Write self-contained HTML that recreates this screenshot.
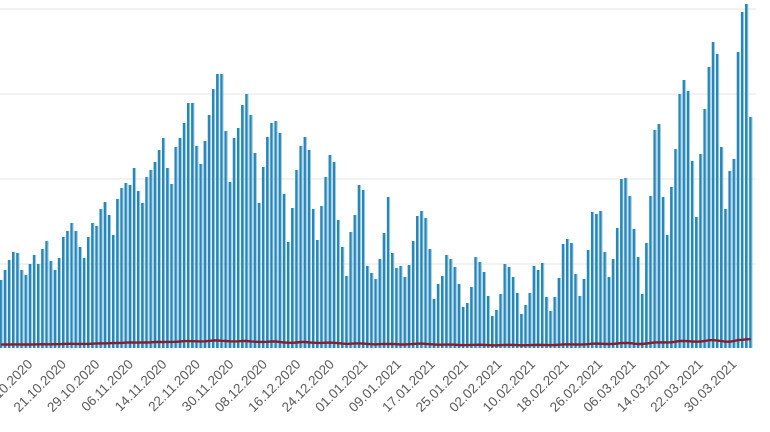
<!DOCTYPE html>
<html><head><meta charset="utf-8"><style>html,body{margin:0;padding:0;background:#fff;width:770px;height:432px;overflow:hidden}</style></head>
<body>
<svg id="s" width="770" height="432" xmlns="http://www.w3.org/2000/svg" style="font-family:'Liberation Sans',sans-serif"></svg>
<script>
var tops=[280,270,260,252,253,270,275,264,255,264,249,241,261,270,258,237,231,223,231,247,258,237,223,226,209,202,215,235,199,188,183,185,168,191,203,177,170,162,150,138,168,184,147,138,123,103,103,146,164,141,115,89,74,
74,131,182,138,128,105,94,115,153,203,167,137,123,121,133,194,242,208,170,146,137,150,209,240,206,177,155,162,220,247,276,232,215,185,190,266,273,279,259,233,197,253,268,266,277,
265,241,216,211,218,249,299,284,276,255,259,267,284,307,303,287,257,262,272,296,316,310,294,264,267,277,293,314,305,293,266,270,263,297,311,297,278,244,239,243,274,296,279,250,212,214,211,252,277,259,228,
179,178,196,229,257,294,243,196,130,124,197,235,187,149,94,80,91,161,217,154,109,67,42,54,147,209,171,159,52,12,4,117];
var s=document.getElementById('s'),h='';
var B=348,dx=4.165,x0=1;
[9,94,179,264].forEach(function(y){h+='<line x1="0" x2="756" y1="'+y+'" y2="'+y+'" stroke="#e4e4e4" stroke-width="1"/>';});
tops.forEach(function(t,i){var x=x0+i*dx;h+='<rect x="'+(x-1.5).toFixed(2)+'" y="'+t+'" width="2.4" height="'+(B-t)+'" fill="#2a86b8"/><rect x="'+(x+0.9).toFixed(2)+'" y="'+t+'" width="0.9" height="'+(B-t)+'" fill="#8fcbe6"/>';});
var pts=[];
for(var i=0;i<tops.length;i++){var sm=0,n=0;for(var j=i-2;j<=i+2;j++){if(j>=0&&j<tops.length){sm+=B-tops[j];n++;}}var v=sm/n;pts.push((x0+i*dx).toFixed(1)+','+(B-1.5-v*0.024).toFixed(1));}
h+='<polyline points="'+pts.join(' ')+'" fill="none" stroke="#8a1c2b" stroke-width="2.4"/>';
var L=['13.10.2020','21.10.2020','29.10.2020','06.11.2020','14.11.2020','22.11.2020','30.11.2020','08.12.2020','16.12.2020','24.12.2020','01.01.2021','09.01.2021','17.01.2021','25.01.2021','02.02.2021','10.02.2021','18.02.2021','26.02.2021','06.03.2021','14.03.2021','22.03.2021','30.03.2021'];
L.forEach(function(l,k){var x=x0+(7+8*k)*4.19+3;h+='<text x="'+x.toFixed(1)+'" y="365" text-anchor="end" font-size="13.5" fill="#5a5a5a" transform="rotate(-45 '+x.toFixed(1)+' 365)">'+l+'</text>';});
s.innerHTML=h;
</script>
</body></html>
